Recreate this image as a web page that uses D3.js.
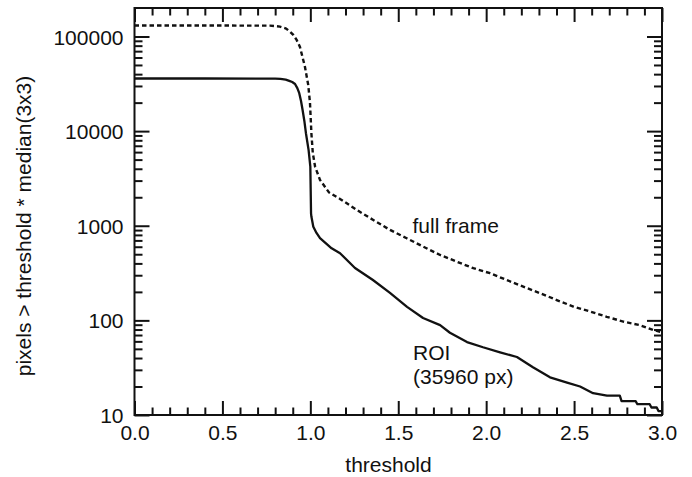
<!DOCTYPE html>
<html>
<head>
<meta charset="utf-8">
<script src="https://cdn.jsdelivr.net/npm/d3@7"></script>
<style>
  html, body { margin: 0; padding: 0; background: #fff; }
  svg { display: block; }
  text { font-family: "Liberation Sans", Arial, sans-serif; fill: #111; }
</style>
</head>
<body>
<svg id="chart" width="692" height="477"></svg>
<script>
// ---- data ----
const roiThreshold = [0.0, 0.40, 0.80, 0.83, 0.86, 0.88, 0.897, 0.913, 0.926, 0.937, 0.947, 0.956, 0.966, 0.975, 0.990, 1.000, 1.004, 1.006, 1.017, 1.035, 1.055, 1.121, 1.169, 1.254, 1.356, 1.453, 1.550, 1.641, 1.738, 1.794, 1.891, 1.982, 2.079, 2.175, 2.266, 2.363, 2.460, 2.534, 2.608, 2.687, 2.70, 2.76, 2.77, 2.85, 2.86, 2.93, 2.94, 2.97, 2.98, 3.0];
const roiCount     = [35960, 35960, 35900, 35700, 35000, 34000, 33000, 31500, 28500, 25200, 20800, 16700, 12800, 9500, 6330, 4220, 1355, 1250, 975, 840, 738, 578, 512, 358, 267, 195, 139, 106, 89, 74, 59, 52, 46, 41, 32, 25, 22, 20, 17, 16, 16, 16, 14, 14, 13, 13, 12, 12, 11, 11];

const fullThreshold = [0.0, 0.40, 0.77, 0.827, 0.862, 0.884, 0.903, 0.922, 0.941, 0.969, 0.988, 0.998, 1.006, 1.014, 1.027, 1.055, 1.106, 1.169, 1.264, 1.358, 1.453, 1.548, 1.642, 1.738, 1.832, 1.927, 2.022, 2.117, 2.211, 2.306, 2.401, 2.496, 2.591, 2.686, 2.780, 2.875, 2.951, 3.0];
const fullCount     = [130500, 130500, 130300, 127300, 121500, 112700, 104000, 92000, 77600, 48100, 30800, 19900, 9500, 5890, 4220, 3050, 2250, 1920, 1470, 1150, 904, 738, 601, 491, 418, 356, 315, 267, 227, 194, 164, 140, 124, 109, 97, 89, 79, 75];

const xMajorTicks = [0.0, 0.5, 1.0, 1.5, 2.0, 2.5, 3.0];
const xTickLabels = ["0.0", "0.5", "1.0", "1.5", "2.0", "2.5", "3.0"];
const yMajorTicks = [10, 100, 1000, 10000, 100000];
const yTickLabels = ["10", "100", "1000", "10000", "100000"];
const xLabel = "threshold";
const yLabel = "pixels > threshold * median(3x3)";
const fullLabel = "full frame";
const roiLabel = ["ROI", "(35960 px)"];

// ---- layout ----
const L = 134.5, R = 662, T = 8, B = 415;
const svg = d3.select("#chart");

const x = d3.scaleLinear().domain([0, 3]).range([L, R]);
const y = d3.scaleLog().domain([10, 200000]).range([B, T]);

const xMinor = d3.range(0, 31).map(i => i / 10).filter(v => xMajorTicks.indexOf(v) < 0);
const yMinor = [];
[10, 100, 1000, 10000, 100000].forEach(d => {
  for (let k = 2; k <= 9; k++) { const v = k * d; if (v < 200000) yMinor.push(v); }
});

const FS = 21;

function styleAxis(g) {
  g.select(".domain").remove();
  g.selectAll(".tick line").attr("stroke", "#111").attr("stroke-width", 2);
  g.selectAll("text").style("font-size", FS + "px").style("font-family", '"Liberation Sans", Arial, sans-serif').attr("fill", "#111");
}

// bottom axis
svg.append("g").attr("transform", `translate(0,${B})`)
  .call(d3.axisBottom(x).tickValues(xMajorTicks).tickSize(-14).tickPadding(10)
    .tickFormat((d, i) => xTickLabels[i]))
  .call(styleAxis);
svg.append("g").attr("transform", `translate(0,${B})`)
  .call(d3.axisBottom(x).tickValues(xMinor).tickSize(-7.5).tickFormat(""))
  .call(styleAxis);
// top axis
svg.append("g").attr("transform", `translate(0,${T})`)
  .call(d3.axisTop(x).tickValues(xMajorTicks).tickSize(-14).tickFormat(""))
  .call(styleAxis);
svg.append("g").attr("transform", `translate(0,${T})`)
  .call(d3.axisTop(x).tickValues(xMinor).tickSize(-7.5).tickFormat(""))
  .call(styleAxis);
// left axis
svg.append("g").attr("transform", `translate(${L},0)`)
  .call(d3.axisLeft(y).tickValues(yMajorTicks).tickSize(-15).tickPadding(11)
    .tickFormat((d, i) => yTickLabels[i]))
  .call(styleAxis)
  .call(g => g.selectAll("text").attr("dy", "0.36em"));
svg.append("g").attr("transform", `translate(${L},0)`)
  .call(d3.axisLeft(y).tickValues(yMinor).tickSize(-8).tickFormat(""))
  .call(styleAxis);
// right axis
svg.append("g").attr("transform", `translate(${R},0)`)
  .call(d3.axisRight(y).tickValues(yMajorTicks).tickSize(-15).tickFormat(""))
  .call(styleAxis);
svg.append("g").attr("transform", `translate(${R},0)`)
  .call(d3.axisRight(y).tickValues(yMinor).tickSize(-8).tickFormat(""))
  .call(styleAxis);

// frame
svg.append("rect").attr("x", L).attr("y", T).attr("width", R - L).attr("height", B - T)
  .attr("fill", "none").attr("stroke", "#111").attr("stroke-width", 2);

// lines
const line = d3.line().x(d => x(d[0])).y(d => y(d[1]));
const roiData = roiThreshold.map((t, i) => [t, roiCount[i]]);
const fullData = fullThreshold.map((t, i) => [t, fullCount[i]]);

svg.append("path").datum(fullData).attr("d", line)
  .attr("fill", "none").attr("stroke", "#111").attr("stroke-width", 2.4)
  .attr("stroke-dasharray", "4.5,3");
svg.append("path").datum(roiData).attr("d", line)
  .attr("fill", "none").attr("stroke", "#111").attr("stroke-width", 2.3)
  .attr("stroke-linejoin", "round");

// annotations
svg.append("text").attr("x", 412.5).attr("y", 232.5).style("font-size", FS + "px").text(fullLabel);
svg.append("text").attr("x", 413).attr("y", 360).style("font-size", FS + "px").text(roiLabel[0]);
svg.append("text").attr("x", 413).attr("y", 384).style("font-size", FS + "px").text(roiLabel[1]);

// axis titles
svg.append("text").attr("x", 388.5).attr("y", 472).attr("text-anchor", "middle")
  .style("font-size", FS + "px").text(xLabel);
svg.append("text").attr("transform", "translate(31,226) rotate(-90)").attr("text-anchor", "middle")
  .style("font-size", FS + "px").text(yLabel);
</script>
</body>
</html>
